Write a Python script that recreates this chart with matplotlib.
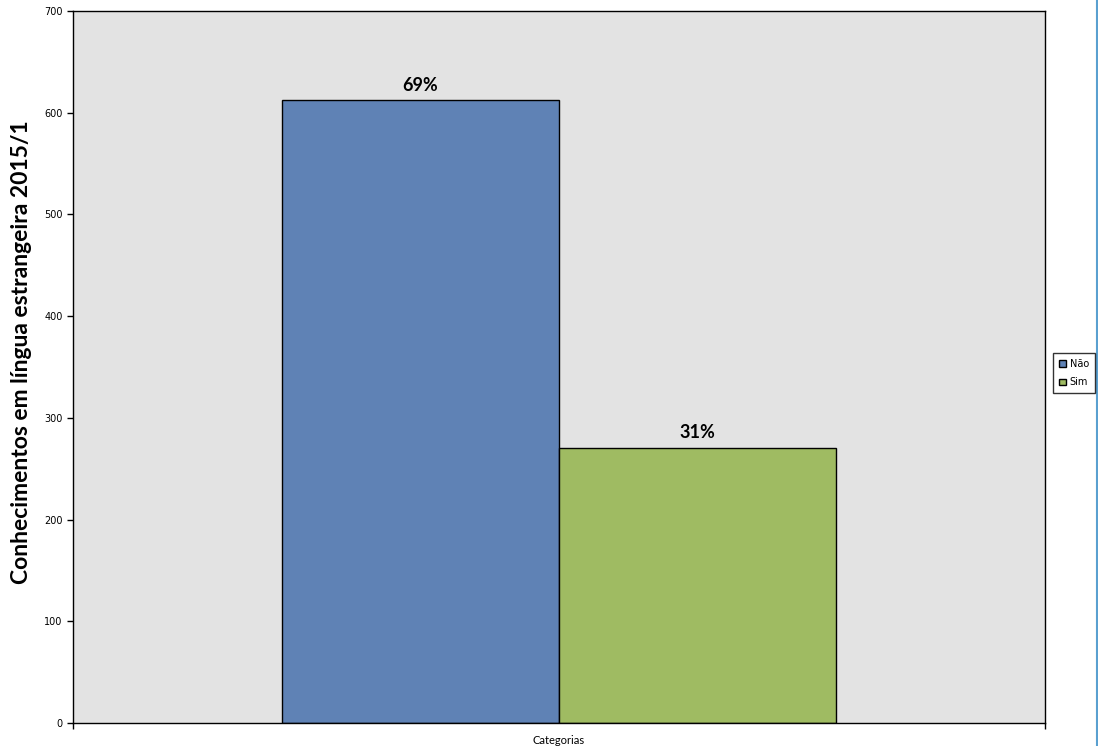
import matplotlib.pyplot as plt
import matplotlib.lines as mlines

plt.rcParams['font.family'] = ['Lato', 'DejaVu Sans']

categorias = ["Não", "Sim"]
valores = [612, 270]
percentuais = ["69%", "31%"]
cores = ["#5f82b5", "#9fbb62"]
yticks = [0, 100, 200, 300, 400, 500, 600, 700]

fig = plt.figure(figsize=(10.98, 7.46), dpi=100)
ax = fig.add_axes([0.0665, 0.0308, 0.8852, 0.9545])
ax.set_facecolor("#e3e3e3")

largura = 0.285
posicoes = [0.5 - largura / 2, 0.5 + largura / 2]
barras = ax.bar(posicoes, valores, width=largura, color=cores,
                edgecolor="black", linewidth=1, label=categorias)

for b, p in zip(barras, percentuais):
    ax.annotate(p, (b.get_x() + b.get_width() / 2, b.get_height()),
                xytext=(0, 5), textcoords="offset points", ha="center",
                va="bottom", fontsize=13, fontweight="bold")

ax.set_xlim(0, 1)
ax.set_ylim(0, 700)
ax.set_yticks(yticks)
ax.set_xticks([0, 1])
ax.set_xticklabels([])
ax.tick_params(axis="both", direction="out", length=4, width=1)
for lbl in ax.get_yticklabels():
    lbl.set_family("DejaVu Sans")
    lbl.set_fontsize(7)
for s in ax.spines.values():
    s.set_linewidth(1)

ax.set_xlabel("Categorias", fontsize=8, labelpad=1)
ax.set_ylabel("Conhecimentos em língua estrangeira 2015/1", fontsize=16.5,
              fontweight="bold")
ax.yaxis.set_label_coords(-0.042, 0.521)

fig.legend(handles=barras, labels=categorias, loc="center",
           bbox_to_anchor=(0.978, 0.5), prop={"family": "DejaVu Sans", "size": 7},
           frameon=True, fancybox=False, edgecolor="black", handlelength=0.7,
           handleheight=0.7, handletextpad=0.4, borderpad=0.6,
           labelspacing=0.9)

fig.add_artist(mlines.Line2D([0.9995, 0.9995], [0, 1], color="#5aa0d0",
                             linewidth=1.5, transform=fig.transFigure))

fig.savefig("out.png", dpi=100)
